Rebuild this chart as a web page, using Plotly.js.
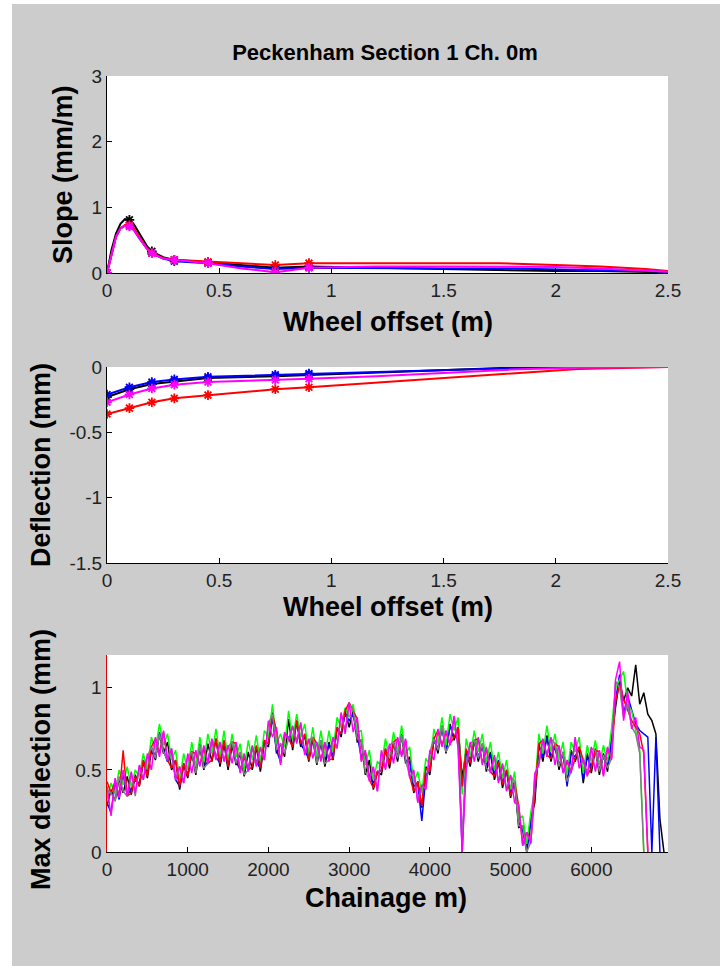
<!DOCTYPE html>
<html>
<head>
<meta charset="utf-8">
<script src="https://cdn.plot.ly/plotly-3.0.1.min.js"></script>
<style>
  html, body { margin: 0; padding: 0; background: #ffffff; }
  #chart { position: absolute; left: 12px; top: 4px; width: 708px; height: 962px; }
</style>
</head>
<body>
<div id="chart"></div>
<script>
// ---------- Data ----------
// Top panel: slope profile vs wheel offset
const slopeOffset = [0, 0.02, 0.04, 0.06, 0.08, 0.1, 0.12, 0.14, 0.16, 0.18, 0.2, 0.25, 0.3, 0.45, 0.6, 0.75, 0.9, 1.2, 1.5, 1.75, 2.0, 2.2, 2.4, 2.5];
const slopeBlack   = [0, 0.35, 0.60, 0.75, 0.82, 0.81, 0.74, 0.63, 0.50, 0.40, 0.33, 0.24, 0.20, 0.16, 0.12, 0.08, 0.10, 0.08, 0.06, 0.04, 0.03, 0.03, 0.02, 0.01];
const slopeBlue    = [0, 0.30, 0.55, 0.68, 0.72, 0.72, 0.66, 0.55, 0.45, 0.36, 0.30, 0.22, 0.18, 0.15, 0.10, 0.06, 0.08, 0.07, 0.07, 0.07, 0.05, 0.04, 0.03, 0.02];
const slopeRed     = [0, 0.30, 0.55, 0.68, 0.73, 0.73, 0.68, 0.57, 0.46, 0.37, 0.30, 0.23, 0.20, 0.17, 0.14, 0.12, 0.15, 0.15, 0.15, 0.15, 0.12, 0.10, 0.06, 0.03];
const slopeMagenta = [0, 0.30, 0.55, 0.68, 0.72, 0.71, 0.65, 0.55, 0.45, 0.36, 0.30, 0.22, 0.20, 0.15, 0.07, 0.01, 0.08, 0.10, 0.10, 0.10, 0.09, 0.07, 0.04, 0.02];

// Sensor (marker) offsets
const sensorOffset = [0, 0.1, 0.2, 0.3, 0.45, 0.75, 0.9];

// Middle panel: deflection vs wheel offset
const deflOffset  = [0, 0.1, 0.2, 0.3, 0.45, 0.75, 0.9, 1.2, 1.5, 1.8, 2.1, 2.5];
const deflBlack   = [-0.23, -0.17, -0.13, -0.11, -0.085, -0.07, -0.06, -0.04, -0.02, -0.005, 0, 0];
const deflBlue    = [-0.21, -0.155, -0.115, -0.095, -0.075, -0.06, -0.05, -0.035, -0.02, -0.01, 0, 0];
const deflMagenta = [-0.27, -0.21, -0.165, -0.135, -0.115, -0.10, -0.09, -0.07, -0.045, -0.02, -0.005, 0];
const deflRed     = [-0.36, -0.315, -0.27, -0.24, -0.215, -0.17, -0.155, -0.12, -0.08, -0.045, -0.015, 0];

// Bottom panel: max deflection vs chainage
const chainage = [
  0,50,100,150,200,250,300,350,400,450,
  500,550,600,650,700,750,800,850,900,950,
  1000,1050,1100,1150,1200,1250,1300,1350,1400,1450,
  1500,1550,1600,1650,1700,1750,1800,1850,1900,1950,
  2000,2050,2100,2150,2200,2250,2300,2350,2400,2450,
  2500,2550,2600,2650,2700,2750,2800,2850,2900,2950,
  3000,3050,3100,3150,3200,3250,3300,3350,3400,3450,
  3500,3550,3600,3650,3700,3750,3800,3850,3900,3950,
  4000,4050,4100,4150,4200,4250,4300,4350,4400,4450,
  4500,4550,4600,4650,4700,4750,4800,4850,4900,4950,
  5000,5050,5100,5150,5200,5250,5300,5350,5400,5450,
  5500,5550,5600,5650,5700,5750,5800,5850,5900,5950,
  6000,6050,6100,6150,6200,6250,6300,6350,6400,6450,
  6500,6550,6600,6650,6700,6750,6800,6850,6900
];
const maxBlack = [
  0.28,0.38,0.31,0.45,0.36,0.46,0.35,0.47,0.40,0.55,
  0.45,0.62,0.56,0.72,0.60,0.67,0.50,0.56,0.38,0.53,
  0.45,0.61,0.47,0.64,0.50,0.66,0.55,0.69,0.52,0.66,
  0.50,0.65,0.53,0.60,0.46,0.61,0.50,0.64,0.49,0.67,
  0.64,0.85,0.60,0.66,0.58,0.81,0.62,0.80,0.64,0.71,
  0.55,0.69,0.53,0.67,0.52,0.67,0.56,0.76,0.70,0.86,
  0.76,0.86,0.67,0.68,0.47,0.56,0.38,0.49,0.47,0.63,
  0.51,0.67,0.55,0.71,0.54,0.58,0.36,0.43,0.27,0.52,
  0.47,0.70,0.60,0.77,0.60,0.78,0.68,0.76,0.45,0.62,
  0.52,0.68,0.55,0.66,0.49,0.61,0.44,0.55,0.39,0.50,
  0.33,0.43,0.15,0.16,0.02,0.20,0.30,0.66,0.55,0.71,
  0.55,0.66,0.50,0.61,0.42,0.62,0.55,0.64,0.42,0.60,
  0.48,0.63,0.47,0.60,0.49,0.70,0.88,1.05,0.92,1.00,
  0.95,1.14,0.90,0.97,0.84,0.80,0.72,0.20,0.00
];
const maxBlue = [
  0.30,0.24,0.42,0.32,0.47,0.35,0.38,0.44,0.41,0.56,
  0.48,0.64,0.58,0.73,0.62,0.55,0.61,0.44,0.40,0.54,
  0.47,0.60,0.50,0.66,0.52,0.55,0.68,0.58,0.54,0.68,
  0.52,0.67,0.55,0.50,0.58,0.50,0.64,0.55,0.51,0.68,
  0.66,0.82,0.62,0.55,0.71,0.70,0.64,0.80,0.66,0.61,
  0.57,0.70,0.55,0.68,0.56,0.66,0.58,0.75,0.72,0.84,
  0.80,0.84,0.70,0.58,0.60,0.46,0.42,0.48,0.50,0.62,
  0.55,0.66,0.58,0.72,0.56,0.55,0.40,0.42,0.19,0.46,
  0.52,0.68,0.63,0.76,0.62,0.77,0.70,0.74,0.00,0.62,
  0.56,0.68,0.58,0.65,0.52,0.60,0.47,0.56,0.42,0.49,
  0.36,0.42,0.18,0.13,0.00,0.18,0.35,0.65,0.58,0.70,
  0.58,0.64,0.53,0.60,0.40,0.60,0.58,0.64,0.44,0.58,
  0.52,0.62,0.50,0.58,0.52,0.68,0.92,1.08,0.84,0.95,
  0.86,0.78,0.74,0.72,0.70,0.00,0.70,0.00
];
const maxGreen = [
  0.32,0.42,0.36,0.50,0.41,0.52,0.40,0.50,0.46,0.60,
  0.50,0.70,0.62,0.78,0.65,0.72,0.56,0.62,0.44,0.60,
  0.50,0.67,0.52,0.70,0.55,0.72,0.60,0.75,0.58,0.74,
  0.56,0.72,0.58,0.66,0.50,0.68,0.56,0.71,0.55,0.74,
  0.70,0.90,0.66,0.72,0.64,0.86,0.68,0.84,0.70,0.78,
  0.60,0.76,0.58,0.74,0.58,0.74,0.61,0.82,0.76,0.88,
  0.82,0.90,0.73,0.74,0.53,0.62,0.44,0.55,0.53,0.69,
  0.57,0.73,0.61,0.77,0.60,0.64,0.42,0.49,0.36,0.57,
  0.53,0.75,0.66,0.82,0.65,0.84,0.74,0.82,0.35,0.69,
  0.58,0.74,0.61,0.72,0.55,0.67,0.50,0.61,0.45,0.56,
  0.38,0.49,0.20,0.22,0.05,0.24,0.38,0.72,0.60,0.77,
  0.61,0.72,0.56,0.67,0.47,0.67,0.61,0.70,0.48,0.65,
  0.55,0.68,0.53,0.65,0.55,0.75,1.00,1.05,1.10,0.90,
  0.86,0.74,0.62,0.00
];
const maxRed = [
  0.43,0.36,0.43,0.34,0.62,0.34,0.36,0.46,0.40,0.56,
  0.46,0.64,0.69,0.60,0.73,0.56,0.51,0.56,0.40,0.54,
  0.46,0.61,0.60,0.53,0.63,0.54,0.56,0.69,0.54,0.68,
  0.52,0.67,0.66,0.49,0.59,0.50,0.52,0.65,0.51,0.68,
  0.66,0.84,0.74,0.54,0.72,0.69,0.64,0.80,0.66,0.72,
  0.56,0.70,0.66,0.56,0.66,0.56,0.57,0.76,0.72,0.86,
  0.91,0.86,0.81,0.56,0.61,0.44,0.39,0.49,0.49,0.63,
  0.53,0.67,0.69,0.59,0.68,0.46,0.37,0.43,0.28,0.51,
  0.49,0.69,0.74,0.65,0.73,0.66,0.70,0.76,0.40,0.63,
  0.54,0.68,0.69,0.54,0.63,0.49,0.46,0.55,0.41,0.50,
  0.34,0.43,0.28,0.04,0.12,0.06,0.34,0.66,0.68,0.59,
  0.57,0.66,0.64,0.49,0.55,0.49,0.57,0.64,0.56,0.47,
  0.51,0.62,0.61,0.47,0.63,0.57,0.92,1.02,0.93,0.87,
  0.80,0.76,0.72,0.60,0.00
];
const maxGray = [
  0.38,0.36,0.31,0.46,0.37,0.34,0.48,0.34,0.52,0.44,
  0.58,0.64,0.57,0.72,0.61,0.56,0.63,0.44,0.52,0.42,
  0.58,0.61,0.48,0.65,0.51,0.54,0.68,0.57,0.66,0.56,
  0.64,0.67,0.54,0.61,0.47,0.50,0.64,0.53,0.63,0.56,
  0.78,0.84,0.62,0.66,0.60,0.69,0.76,0.68,0.78,0.60,
  0.68,0.70,0.54,0.68,0.54,0.56,0.69,0.64,0.84,0.74,
  0.90,0.86,0.69,0.68,0.49,0.44,0.51,0.37,0.61,0.51,
  0.65,0.67,0.57,0.71,0.56,0.46,0.49,0.31,0.40,0.39,
  0.61,0.69,0.62,0.77,0.61,0.66,0.82,0.64,0.10,0.51,
  0.66,0.68,0.57,0.66,0.51,0.49,0.58,0.43,0.53,0.38,
  0.46,0.43,0.16,0.16,0.00,0.06,0.46,0.54,0.68,0.59,
  0.69,0.66,0.52,0.61,0.43,0.49,0.69,0.52,0.56,0.47,
  0.63,0.62,0.49,0.59,0.51,0.57,1.04,1.00,0.82,0.90,
  0.76,0.72,0.60,0.00
];
const maxMagenta = [
  0.40,0.22,0.45,0.33,0.50,0.34,0.49,0.36,0.53,0.44,
  0.60,0.50,0.70,0.58,0.74,0.56,0.63,0.44,0.52,0.42,
  0.60,0.48,0.62,0.52,0.65,0.54,0.69,0.56,0.67,0.55,
  0.65,0.54,0.67,0.48,0.60,0.49,0.65,0.52,0.64,0.56,
  0.80,0.70,0.76,0.53,0.73,0.68,0.77,0.66,0.79,0.59,
  0.69,0.57,0.67,0.55,0.67,0.55,0.70,0.63,0.85,0.72,
  0.91,0.73,0.82,0.55,0.62,0.43,0.52,0.37,0.62,0.50,
  0.66,0.54,0.70,0.58,0.69,0.45,0.50,0.30,0.41,0.38,
  0.62,0.56,0.75,0.64,0.74,0.65,0.83,0.63,0.00,0.50,
  0.67,0.55,0.70,0.53,0.64,0.48,0.59,0.42,0.54,0.37,
  0.47,0.30,0.29,0.04,0.12,0.05,0.48,0.53,0.69,0.58,
  0.70,0.53,0.65,0.48,0.56,0.48,0.70,0.51,0.57,0.46,
  0.64,0.49,0.62,0.46,0.64,0.56,1.05,1.16,0.80,0.98,
  0.75,0.82,0.64,0.62,0.00
];

// Tick labels
const slopeTickVals = [0, 1, 2, 3];
const offsetTickVals = [0, 0.5, 1, 1.5, 2, 2.5];
const offsetTickText = ['0', '0.5', '1', '1.5', '2', '2.5'];
const deflTickVals = [0, -0.5, -1, -1.5];
const deflTickText = ['0', '-0.5', '-1', '-1.5'];
const maxTickVals = [0, 0.5, 1];
const maxTickText = ['0', '0.5', '1'];
const chainTickVals = [0, 1000, 2000, 3000, 4000, 5000, 6000];
const chainTickText = ['0', '1000', '2000', '3000', '4000', '5000', '6000'];

// ---------- Build ----------
const BLACK = '#000000', BLUE = '#0000ff', RED = '#ff0000', MAGENTA = '#ff00ff', GREEN = '#00ff00', GRAY = '#808080';

function pick(xs, ys, wanted) {
  return wanted.map(w => ys[xs.indexOf(w)]);
}

const traces = [];
function addProfile(xs, ys, color, xa, ya) {
  traces.push({ x: xs, y: ys, mode: 'lines', line: { color: color, width: 2 }, xaxis: xa, yaxis: ya, hoverinfo: 'skip' });
  traces.push({ x: sensorOffset, y: pick(xs, ys, sensorOffset), mode: 'markers', xaxis: xa, yaxis: ya, hoverinfo: 'skip',
    marker: { symbol: 'asterisk-open', size: 8, color: color, line: { color: color, width: 1.8 } } });
}
addProfile(slopeOffset, slopeBlack, BLACK, 'x', 'y');
addProfile(slopeOffset, slopeBlue, BLUE, 'x', 'y');
addProfile(slopeOffset, slopeRed, RED, 'x', 'y');
addProfile(slopeOffset, slopeMagenta, MAGENTA, 'x', 'y');

addProfile(deflOffset, deflBlack, BLACK, 'x2', 'y2');
addProfile(deflOffset, deflBlue, BLUE, 'x2', 'y2');
addProfile(deflOffset, deflRed, RED, 'x2', 'y2');
addProfile(deflOffset, deflMagenta, MAGENTA, 'x2', 'y2');

[[maxBlack, BLACK], [maxBlue, BLUE], [maxGreen, GREEN], [maxRed, RED], [maxGray, GRAY], [maxMagenta, MAGENTA]].forEach(([ys, c]) => {
  traces.push({ x: chainage, y: ys, mode: 'lines', line: { color: c, width: 1.5 }, xaxis: 'x3', yaxis: 'y3', hoverinfo: 'skip' });
});

// Pixel helpers (page coordinates -> paper)
const DIVX = 12, DIVY = 4, ML = 95, MT = 72, PW = 561, PH = 776;
const px = v => (v - DIVX - ML) / PW;
const py = v => (MT + PH - (v - DIVY)) / PH;

const tickFont = { family: 'Liberation Sans, Arial, sans-serif', size: 19, color: '#222222' };
const titleFont = { family: 'Liberation Sans, Arial, sans-serif', size: 27, color: '#000000', weight: 'bold' };

function axisBase(extra) {
  return Object.assign({
    showline: true, linecolor: '#000000', linewidth: 1, mirror: false,
    ticks: 'inside', ticklen: 5, tickcolor: '#000000', tickwidth: 1,
    showgrid: false, zeroline: false, fixedrange: true,
    tickfont: tickFont, tickmode: 'array'
  }, extra);
}

const layout = {
  width: 708, height: 962,
  paper_bgcolor: '#cccccc', plot_bgcolor: '#ffffff',
  margin: { l: ML, r: 708 - ML - PW, t: MT, b: 962 - MT - PH, pad: 0 },
  showlegend: false,
  title: { text: 'Peckenham Section 1 Ch. 0m', font: { family: 'Liberation Sans, Arial, sans-serif', size: 22, color: '#000000', weight: 'bold' },
    xref: 'container', yref: 'container', x: (385 - DIVX) / 708, xanchor: 'center', y: 1 - (52 - DIVY) / 962, yanchor: 'middle' },
  xaxis:  axisBase({ domain: [0, 1], anchor: 'y',  range: [0, 2.5], tickvals: offsetTickVals, ticktext: offsetTickText }),
  yaxis:  axisBase({ domain: [py(273), py(76)], anchor: 'x', range: [0, 3], tickvals: slopeTickVals, ticktext: slopeTickVals.map(String) }),
  xaxis2: axisBase({ domain: [0, 1], anchor: 'y2', range: [0, 2.5], tickvals: offsetTickVals, ticktext: offsetTickText }),
  yaxis2: axisBase({ domain: [py(563), py(367)], anchor: 'x2', range: [-1.5, 0], tickvals: deflTickVals, ticktext: deflTickText }),
  xaxis3: axisBase({ domain: [0, 1], anchor: 'y3', range: [0, 6950], tickvals: chainTickVals, ticktext: chainTickText }),
  yaxis3: axisBase({ domain: [py(852), py(655)], anchor: 'x3', range: [0, 1.2], tickvals: maxTickVals, ticktext: maxTickText, linecolor: '#e00000', linewidth: 1.5 }),
  annotations: [
    { text: 'Slope (mm/m)', x: px(63), y: py(175), textangle: -90 },
    { text: 'Wheel offset (m)', x: px(388), y: py(322), textangle: 0 },
    { text: 'Deflection (mm)', x: px(41), y: py(465), textangle: -90 },
    { text: 'Wheel offset (m)', x: px(388), y: py(607), textangle: 0 },
    { text: 'Max deflection (mm)', x: px(41), y: py(760), textangle: -90 },
    { text: 'Chainage m)', x: px(386), y: py(898), textangle: 0 }
  ].map(a => Object.assign({ xref: 'paper', yref: 'paper', xanchor: 'center', yanchor: 'middle', showarrow: false, font: titleFont }, a))
};

Plotly.newPlot('chart', traces, layout, { displayModeBar: false, staticPlot: true });
</script>
</body>
</html>
